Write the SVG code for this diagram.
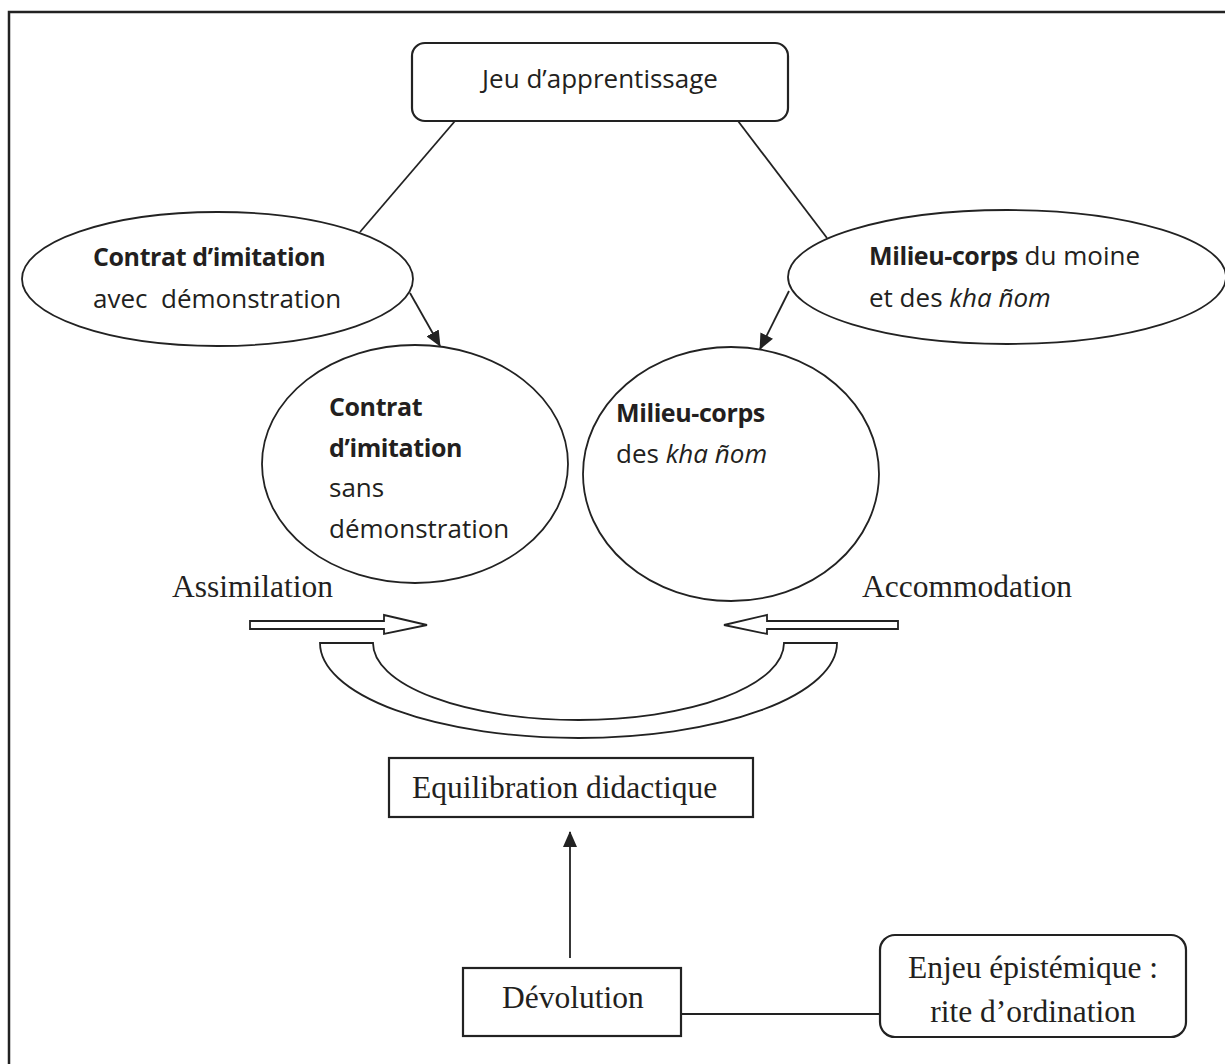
<svg xmlns="http://www.w3.org/2000/svg" width="1225" height="1064" viewBox="0 0 1225 1064">
<style>
.sh{fill:#fff;stroke:#222;stroke-width:1.8}
.bx{fill:#fff;stroke:#222;stroke-width:2.2}
.ln{fill:none;stroke:#222;stroke-width:1.8}
.sa{font-family:"Open Sans","Liberation Sans",sans-serif;font-size:26px;fill:#231f20}
.b{font-weight:bold;font-size:25px;letter-spacing:-0.4px}
.i{font-style:italic}
.se{font-family:"Liberation Serif","Times New Roman",serif;font-size:31.5px;fill:#231f20}
</style>
<defs>
<marker id="ah" markerWidth="16" markerHeight="14" refX="15" refY="7" orient="auto" markerUnits="userSpaceOnUse">
<path d="M0,0 L16,7 L0,14 Z" fill="#222"/>
</marker>
</defs>
<rect x="9" y="12" width="1300" height="1100" fill="none" stroke="#222" stroke-width="2.5"/>
<g id="connectors">
<line class="ln" x1="455" y1="121" x2="360" y2="232"/>
<line class="ln" x1="738" y1="121" x2="827" y2="238"/>
<line class="ln" x1="410" y1="293" x2="440" y2="346" marker-end="url(#ah)"/>
<line class="ln" x1="789" y1="291" x2="760" y2="349" marker-end="url(#ah)"/>
<line class="ln" x1="570" y1="958" x2="570" y2="832" stroke-width="2.4" marker-end="url(#ah)"/>
<line class="ln" x1="681" y1="1014" x2="880" y2="1014"/>
<path id="arrow-assimilation" class="sh" d="M250,621 L384,621 L384,615 L427,625 L384,634 L384,629 L250,629 Z"/>
<path id="arrow-accommodation" class="sh" d="M898,621 L767,621 L767,615 L724,625 L767,634 L767,629 L898,629 Z"/>
<path id="u-band" class="sh" d="M320,643 A258.5,95 0 0,0 837,643 L784,643 A205.5,77 0 0,1 373,643 Z"/>
</g>
<g id="jeu">
<rect class="bx" x="412" y="43" width="376" height="78" rx="13"/>
<text class="sa" x="600" y="88" text-anchor="middle">Jeu d’apprentissage</text>
</g>
<g id="contrat-avec">
<ellipse class="sh" cx="217.5" cy="279" rx="195.5" ry="67"/>
<text class="sa b" x="93" y="266">Contrat d’imitation</text>
<text class="sa" x="93" y="308">avec&#160; démonstration</text>
</g>
<g id="milieu-moine">
<ellipse class="sh" cx="1007" cy="277" rx="219" ry="67"/>
<text class="sa" x="869" y="265"><tspan class="b">Milieu-corps</tspan> du moine</text>
<text class="sa" x="869" y="307">et des <tspan class="i">kha ñom</tspan></text>
</g>
<g id="contrat-sans">
<ellipse class="sh" cx="415" cy="464" rx="153" ry="119"/>
<text class="sa b" x="329" y="416">Contrat</text>
<text class="sa b" x="329" y="457">d’imitation</text>
<text class="sa" x="329" y="497">sans</text>
<text class="sa" x="329" y="538">démonstration</text>
</g>
<g id="milieu-khanom">
<ellipse class="sh" cx="731" cy="474" rx="148" ry="127"/>
<text class="sa b" x="616" y="422">Milieu-corps</text>
<text class="sa" x="616" y="463">des <tspan class="i">kha ñom</tspan></text>
</g>
<g id="assimilation"><text class="se" x="172" y="597">Assimilation</text></g>
<g id="accommodation"><text class="se" x="862" y="597">Accommodation</text></g>
<g id="equilibration">
<rect class="bx" x="389" y="758" width="364" height="59"/>
<text class="se" x="412" y="798">Equilibration didactique</text>
</g>
<g id="devolution">
<rect class="bx" x="463" y="968" width="218" height="68"/>
<text class="se" x="502" y="1008">Dévolution</text>
</g>
<g id="enjeu">
<rect class="bx" x="880" y="935" width="306" height="102" rx="15"/>
<text class="se" x="1033" y="978" text-anchor="middle">Enjeu épistémique :</text>
<text class="se" x="1033" y="1022" text-anchor="middle">rite d’ordination</text>
</g>
</svg>
